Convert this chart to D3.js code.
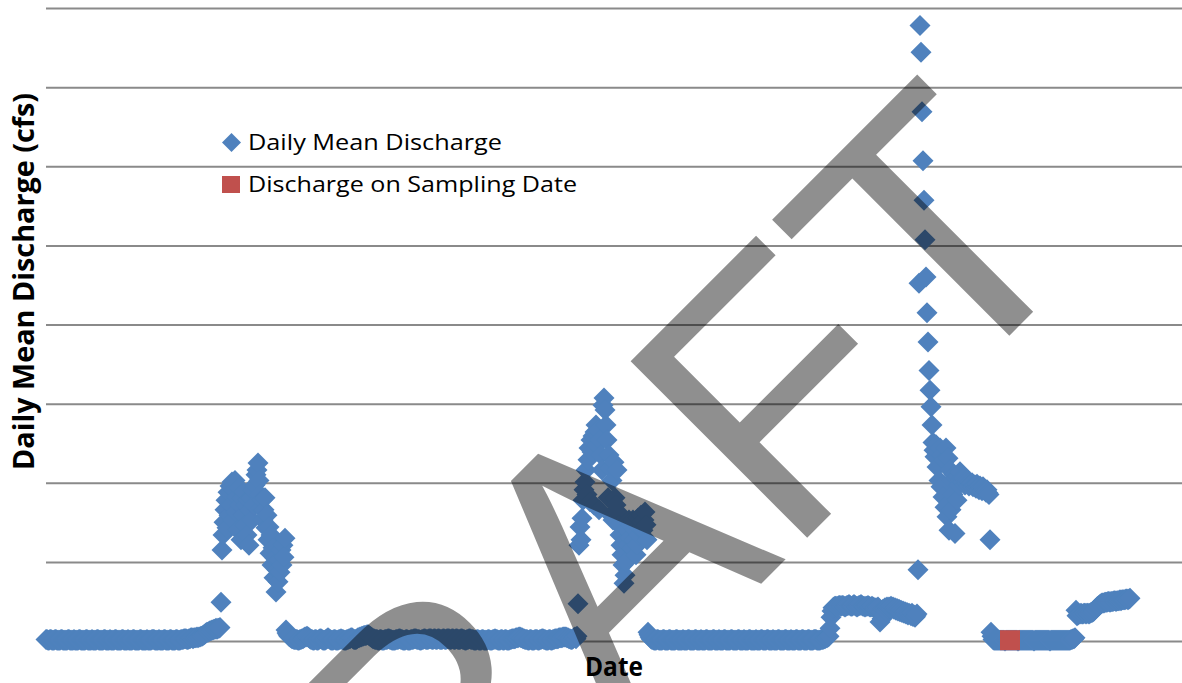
<!DOCTYPE html>
<html>
<head>
<meta charset="utf-8">
<script src="https://cdn.jsdelivr.net/npm/d3@7"></script>
<style>
  html, body { margin: 0; padding: 0; background: #fff; }
  svg { display: block; }
</style>
</head>
<body>
<svg id="chart" width="1182" height="683"></svg>
<script>
// ---- data -------------------------------------------------------------
// Daily mean discharge (cfs), one value per day starting at seriesStart.
const seriesStart = "2010-10-01";
const dailyDischarge = [
  // Oct 2010 - Feb 2011 baseflow
  2,2,1,1,2,2,1,1,1,2, 2,1,1,1,1,2,2,1,1,1, 1,1,2,2,1,1,1,1,2,1,
  1,1,1,2,2,1,1,1,1,1, 2,2,1,1,1,1,2,1,1,1, 1,2,2,1,1,1,1,1,2,2,
  1,1,1,1,2,1,1,1,1,2, 2,1,1,1,1,1,2,2,1,1, 1,1,2,1,1,1,1,2,2,1,
  1,1,1,1,2,2,1,1,1,1, 1,2,1,1,1,1,2,2,2,1, 1,1,1,2,1,1,1,1,2,2,
  1,1,1,1,2,2,1,1,1,1, 2,2,1,1,1,2,2,2,3,3, 3,2,2,3,3,4,4,3,4,4,
  4,5,4,5,5,6,6,7,8,9, 10,11,11,12,13,13,14,14,15,15, 16,15,16,16,17,
  // spring 2011 runoff
  49,115,134,150,166,178,143,188,159,196, 172,201,153,191,203,163,182,140,193,172,
  128,181,159,188,147,172,134,178,121,166, 181,153,191,172,197,210,216,225,203,185,
  168,178,153,166,181,143,159,128,144,111, 134,96,118,80,105,62,90,75,102,87,
  115,96,121,106,130,14,
  // summer 2011 - winter 2012
  10,8,6,5,4,3,3,2,2,2, 2,1,1,2,2,3,3,4,5,5, 6,5,4,3,2,2,1,1,2,2,
  1,1,2,3,3,2,1,1,1,2, 3,4,3,2,1,1,1,2,2,1, 1,1,2,2,3,2,2,1,1,1,
  2,2,3,3,4,4,3,2,2,2, 3,4,4,5,5,6,6,7,7,7, 8,8,7,6,5,4,3,3,2,2,
  2,1,1,2,2,1,1,1,2,2, 2,3,3,2,2,1,1,1,1,2, 2,2,3,3,2,2,1,1,1,2,
  2,1,1,1,2,2,2,3,3,3, 2,2,2,1,1,2,2,3,3,2, 2,2,3,3,3,2,2,3,3,2,
  2,3,3,2,2,2,3,3,2,2, 3,3,3,2,2,3,3,2,2,3, 3,2,2,2,3,3,2,2,1,1,
  2,2,3,3,2,2,2,1,1,1, 2,2,1,1,1,2,2,1,1,1, 1,2,2,1,1,1,2,2,3,2,
  2,1,1,1,2,2,1,1,2,2, 1,1,1,2,2,3,3,3,3,4, 4,4,5,5,4,4,3,3,2,2,
  2,1,1,2,2,1,1,1,2,2, 2,1,1,2,2,3,3,2,2,1, 1,1,2,2,1,1,2,2,3,3,
  3,3,4,4,4,4,5,5,5,5, 4,4,3,3,2,2,3,4,5,
  // spring 2012 runoff
  3,6,47,121,144,128,155,178,191,201, 216,185,229,244,176,254,239,259,172,264,
  273,248,267,166,254,235,216,298,307,292, 273,254,181,235,219,159,203,153,226,181,
  172,216,163,147,134,121,109,96,73,83, 100,140,121,153,130,147,118,153,128,140,
  109,121,155,134,143,159,150,140,153,163, 147,128,11,
  // summer - fall 2012
  8,5,3,2,2,1,1,1,2,2, 1,1,1,1,2,2,1,1,1,1, 2,2,1,1,1,1,1,2,2,1,
  1,1,1,1,2,1,1,1,1,2, 2,1,1,1,1,1,2,2,1,1, 1,1,2,1,1,1,1,2,2,1,
  1,1,1,1,2,2,1,1,1,1, 2,1,1,1,1,2,2,1,1,1, 1,1,2,2,1,1,1,1,1,2,
  2,1,1,1,1,2,1,1,1,1, 2,2,1,1,1,1,1,2,1,1, 1,1,2,2,1,1,1,1,2,2,
  1,1,1,1,2,1,1,1,1,2, 2,1,1,1,1,1,2,2,1,1, 1,1,2,1,1,1,1,2,2,1,
  1,1,1,2,2,1,1,1,1,2, 2,1,1,1,1,2,2,2,1,1, 1,1,2,2,2,3,3,4,4,5,
  6,
  // winter 2012-13 elevated flow
  16,30,38,42,43,44,44,43,44,45, 45,44,45,45,44,43,44,45,45,46,
  45,44,44,45,46,45,44,43,44,45, 45,46,45,44,44,43,44,44,45,44,
  43,43,44,43,42,42,41,42,43,41, 24,37,28,40,33,42,38,43,40,43,
  42,44,41,43,40,42,39,41,38,40, 37,39,36,38,35,37,34,36,33,35,
  34,32,35,31,33,30,32,
  // February 2013 storm and recession
  34,90,452,778,744,669,607,557,507,460, 415,378,342,317,296,273,251,241,233,248,
  220,239,203,244,195,235,182,229,169,244, 157,231,140,216,166,203,185,210,136,206,
  178,209,197,214,203,206,201,206,197,203, 200,203,196,201,198,200,195,197,197,193,
  198,195,191,196,193,190,195,192,191,188, 191,187,185,128,11,
  // late spring 2013
  6,2,1,1,1,1,1,1,1,1, 1,1,1,0,1,1,1,1,1,1, 1,1,1,1,1,1,0,1,1,1,
  1,1,1,1,1,1,1,1,1,1, 1,1,0,1,1,1,1,1,1,1, 1,1,1,1,1,1,1,1,0,1,
  1,1,1,1,1,1,1,1,1,1, 1,1,1,1,1,1,1,1,1,2, 2,3,3,4,
  // summer - fall 2013
  39,32,33,34,34,35,34,34,35,35, 34,35,35,34,35,36,36,37,38,40,
  41,43,44,45,46,47,48,48,48,49, 49,49,50,50,49,50,50,50,51,51,
  50,51,51,51,52,51,52,52,52,52, 53,53,52,53,54
];

// Discharge on water-quality sampling dates
const samplingDates = ["2013-05-22"];
const samplingDischarge = [1];

// Axis extent and gridline values
const axisStart = "2010-10-01";
const axisEnd = "2013-11-10";
const yTicks = [0, 100, 200, 300, 400, 500, 600, 700, 800];

// Text
const seriesNames = ["Daily Mean Discharge", "Discharge on Sampling Date"];
const yTitle = "Daily Mean Discharge (cfs)";
const xTitle = "Date";
const watermarkText = "DRAFT";

// ---- drawing ----------------------------------------------------------
const W = 1182, H = 683;
const plot = { left: 46, right: 1182, top: 8, bottom: 641 };
const blue = "#4F81BD", red = "#C0504D";

const svg = d3.select("#chart");
svg.append("rect").attr("width", W).attr("height", H).attr("fill", "#fff");

const parseDay = d3.utcParse("%Y-%m-%d");
const x = d3.scaleUtc()
  .domain([parseDay(axisStart), parseDay(axisEnd)])
  .range([plot.left, plot.right]);
const y = d3.scaleLinear()
  .domain([yTicks[0], yTicks[yTicks.length - 1]])
  .range([plot.bottom, plot.top]);

// horizontal gridlines (no tick labels)
const grid = svg.append("g")
  .attr("transform", `translate(${plot.left},0)`)
  .call(d3.axisLeft(y).tickValues(yTicks).tickSize(-(plot.right - plot.left)).tickFormat(""));
grid.select(".domain").remove();
grid.selectAll(".tick line").attr("stroke", "#8a8a8a").attr("stroke-width", 2);

// daily series as diamonds
const start = parseDay(seriesStart);
const daily = dailyDischarge.map((v, i) => ({ date: d3.utcDay.offset(start, i), value: v }));
const diamond = r => `M0,${-r}L${r},0L0,${r}L${-r},0Z`;

svg.append("g")
  .selectAll("path")
  .data(daily)
  .join("path")
  .attr("d", diamond(10.5))
  .attr("transform", d => `translate(${x(d.date)},${y(d.value)})`)
  .attr("fill", blue);

// sampling-date discharge as squares
const samples = samplingDates.map((s, i) => ({ date: parseDay(s), value: samplingDischarge[i] }));
svg.append("g")
  .selectAll("rect")
  .data(samples)
  .join("rect")
  .attr("x", d => x(d.date) - 10)
  .attr("y", d => y(d.value) - 10)
  .attr("width", 20)
  .attr("height", 20)
  .attr("fill", red);

// legend
const legend = svg.append("g").attr("font-family", "'Open Sans', 'Liberation Sans', sans-serif");
legend.append("path")
  .attr("d", diamond(9.5))
  .attr("transform", "translate(231.5,142.5)")
  .attr("fill", blue);
legend.append("rect")
  .attr("x", 222).attr("y", 176).attr("width", 18).attr("height", 17)
  .attr("fill", red);
legend.append("text")
  .attr("x", 248).attr("y", 150)
  .attr("font-size", 22.4)
  .attr("textLength", 254).attr("lengthAdjust", "spacingAndGlyphs")
  .attr("fill", "#000")
  .text(seriesNames[0]);
legend.append("text")
  .attr("x", 248).attr("y", 191.5)
  .attr("font-size", 22.4)
  .attr("textLength", 329).attr("lengthAdjust", "spacingAndGlyphs")
  .attr("fill", "#000")
  .text(seriesNames[1]);

// axis titles
svg.append("text")
  .attr("transform", "translate(33.5,281.5) rotate(-90)")
  .attr("text-anchor", "middle")
  .attr("font-family", "'Open Sans', 'Liberation Sans', sans-serif")
  .attr("font-weight", "bold")
  .attr("font-size", 28)
  .attr("textLength", 377).attr("lengthAdjust", "spacingAndGlyphs")
  .attr("fill", "#000")
  .text(yTitle);

svg.append("text")
  .attr("x", 614).attr("y", 676)
  .attr("text-anchor", "middle")
  .attr("font-family", "'Open Sans', 'Liberation Sans', sans-serif")
  .attr("font-weight", "bold")
  .attr("font-size", 27)
  .attr("textLength", 58).attr("lengthAdjust", "spacingAndGlyphs")
  .attr("fill", "#000")
  .text(xTitle);

// watermark across the chart
svg.append("text")
  .attr("transform", "translate(244.2,1100.8) rotate(-45)")
  .attr("font-family", "'Liberation Sans', Arial, sans-serif")
  .attr("font-size", 363)
  .attr("fill", "#000")
  .attr("fill-opacity", 0.44)
  .text(watermarkText);
</script>
</body>
</html>
